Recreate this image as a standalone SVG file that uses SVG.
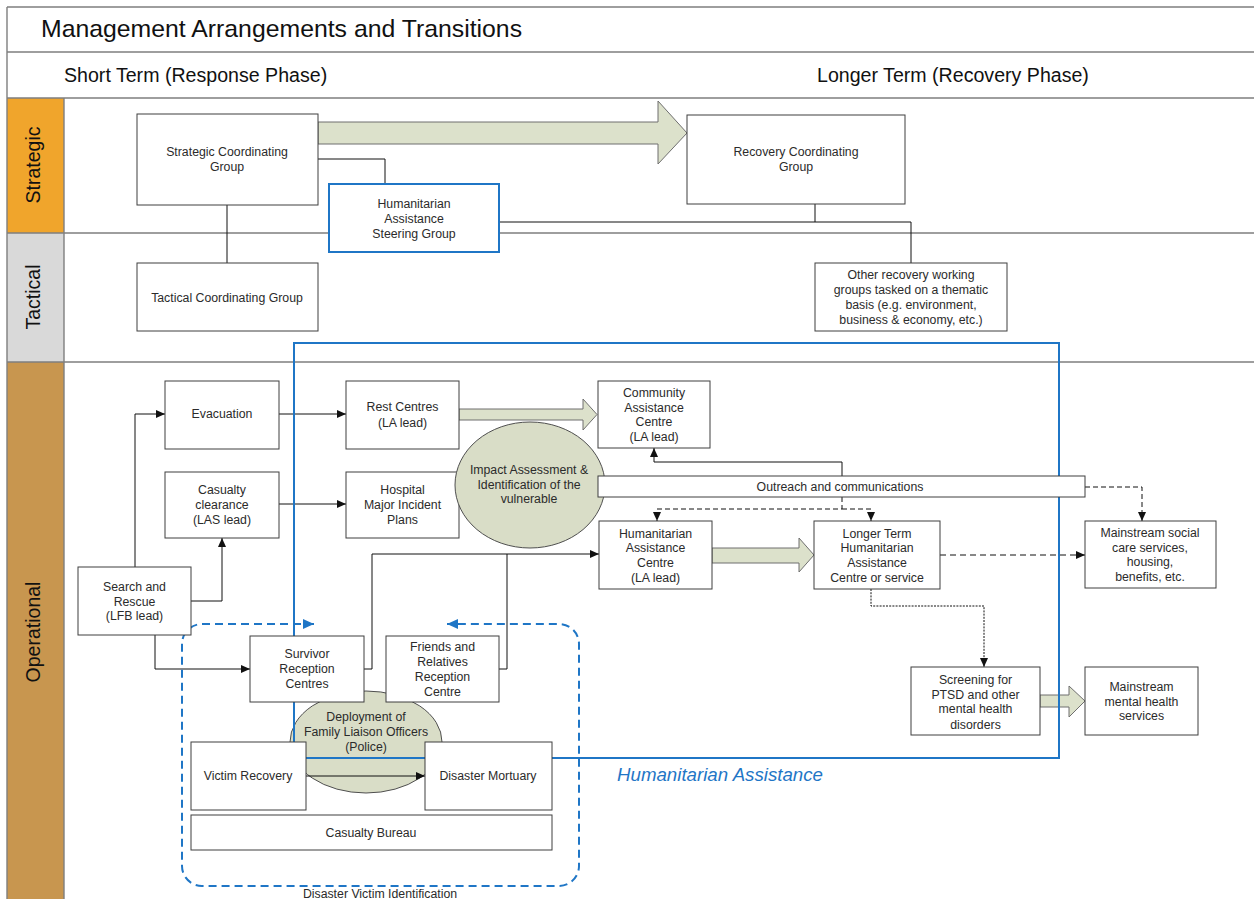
<svg xmlns="http://www.w3.org/2000/svg" width="1254" height="899" viewBox="0 0 1254 899">
<defs>
<style>
.row{stroke:#7f7f7f;stroke-width:1.4;fill:none}
.box{fill:#fff;stroke:#3f3f3f;stroke-width:1}
.hbox{fill:#fff;stroke:#1f76c6;stroke-width:2}
.t{font-family:"Liberation Sans",Arial,sans-serif;font-size:12.3px;fill:#2b2b2b;text-anchor:middle}
.hdr{font-family:"Liberation Sans",Arial,sans-serif;fill:#111}
.band{font-family:"Liberation Sans",Arial,sans-serif;font-size:19.5px;fill:#111;text-anchor:middle}
.con{stroke:#111;stroke-width:1;fill:none}
.dash{stroke-dasharray:5 3}
.dot{stroke-dasharray:2 1.2}
.block{fill:#dce1cb;stroke:#6f6f6f;stroke-width:1}
.ell{fill:#d9ddc7;stroke:#4f4f4f;stroke-width:1}
.blue{stroke:#1f76c6;stroke-width:2;fill:none}
</style>
<marker id="ah" markerUnits="userSpaceOnUse" markerWidth="9" markerHeight="8" refX="9" refY="4" orient="auto">
<path d="M0,0 L9,4 L0,8 z" fill="#111"/>
</marker>
<marker id="bh" markerUnits="userSpaceOnUse" markerWidth="11" markerHeight="10" refX="11" refY="5" orient="auto-start-reverse">
<path d="M0,0 L11,5 L0,10 z" fill="#1f76c6"/>
</marker>
</defs>
<rect x="0" y="0" width="1254" height="899" fill="#fff"/>

<g id="frame">
<rect x="7" y="98" width="57" height="135" fill="#f0a52c"/>
<rect x="7" y="233" width="57" height="129" fill="#d9d9d9"/>
<rect x="7" y="362" width="57" height="537" fill="#c8964f"/>
<path class="row" d="M7,7 H1254 M7,52 H1254 M7,98 H1254 M7,233 H1254 M7,362 H1254 M7,7 V899 M64,98 V899"/>
<text class="hdr" x="41" y="37" font-size="24.8">Management Arrangements and Transitions</text>
<text class="hdr" x="64" y="82" font-size="19.6">Short Term (Response Phase)</text>
<text class="hdr" x="817" y="82" font-size="19.6">Longer Term (Recovery Phase)</text>
<text class="band" transform="translate(40,165) rotate(-90)">Strategic</text>
<text class="band" transform="translate(40,297) rotate(-90)">Tactical</text>
<text class="band" transform="translate(40,632) rotate(-90)">Operational</text>
</g>

<g id="dfl">
<ellipse class="ell" cx="366" cy="742" rx="76" ry="51"/>
<text class="t" x="366" y="721">Deployment of</text>
<text class="t" x="366" y="736">Family Liaison Officers</text>
<text class="t" x="366" y="751">(Police)</text>
</g>

<g id="connectors">
<polygon class="block" points="318,122 658,122 658,101 687,133 658,164 658,144 318,144"/>
<polygon class="block" points="459,409 583,409 583,399 597,414.5 583,430 583,420 459,420"/>
<polygon class="block" points="712,548 799,548 799,538 814,555 799,572 799,563 712,563"/>
<polygon class="block" points="1040,695 1069,695 1069,686 1085,701 1069,717 1069,707 1040,707"/>
<path class="con" d="M318,159 H385 V184"/>
<path class="con" d="M227,205 V263"/>
<path class="con" d="M499,222 H911 V263"/>
<path class="con" d="M815,204 V222"/>
<path class="con" d="M135,567 V414 H165" marker-end="url(#ah)"/>
<path class="con" d="M191,601 H222 V538" marker-end="url(#ah)"/>
<path class="con" d="M155,635 V669 H250" marker-end="url(#ah)"/>
<path class="con" d="M279,414 H346" marker-end="url(#ah)"/>
<path class="con" d="M279,504 H346" marker-end="url(#ah)"/>
<path class="con" d="M364,669 H372 V554 H599" marker-end="url(#ah)"/>
<path class="con" d="M499,669 H507 V554"/>
<path class="con" d="M842,476 V462 H654 V448" marker-end="url(#ah)"/>
<path class="con dash" d="M842,497 V509 H657 V521" marker-end="url(#ah)"/>
<path class="con dash" d="M842,509 H871 V521" marker-end="url(#ah)"/>
<path class="con" style="stroke-dasharray:6 4" d="M940,555 H1085" marker-end="url(#ah)"/>
<path class="con dash" d="M1085,487 H1142 V521" marker-end="url(#ah)"/>
<path class="con dot" d="M871,589 V606 H984 V667" marker-end="url(#ah)"/>
<path class="con" d="M306,776 H425" marker-end="url(#ah)"/>
</g>

<g id="humanitarian-assistance">
<rect class="blue" x="294" y="343" width="765" height="415"/>
<text x="617" y="781" font-family="'Liberation Sans',Arial,sans-serif" font-size="18.7" font-style="italic" fill="#1f76c6">Humanitarian Assistance</text>
</g>

<g id="dvi">
<path class="blue" style="stroke-dasharray:8 5" d="M314,624 H202 A20,20 0 0 0 182,644 V866 A20,20 0 0 0 202,886 H559 A20,20 0 0 0 579,866 V644 A20,20 0 0 0 559,624 H447" marker-start="url(#bh)" marker-end="url(#bh)"/>
<text class="t" x="380" y="898">Disaster Victim Identification</text>
</g>

<g id="scg"><rect class="box" x="137" y="114" width="181" height="91"/>
<text class="t" x="227" y="156">Strategic Coordinating</text><text class="t" x="227" y="171">Group</text></g>
<g id="hasg"><rect class="hbox" x="329" y="184" width="170" height="68"/>
<text class="t" x="414" y="207.5">Humanitarian</text><text class="t" x="414" y="223">Assistance</text><text class="t" x="414" y="237.5">Steering Group</text></g>
<g id="tcg"><rect class="box" x="137" y="263" width="181" height="68"/>
<text class="t" x="227" y="302">Tactical Coordinating Group</text></g>
<g id="rcg"><rect class="box" x="687" y="115" width="218" height="89"/>
<text class="t" x="796" y="156">Recovery Coordinating</text><text class="t" x="796" y="171">Group</text></g>
<g id="orwg"><rect class="box" x="815" y="263" width="192" height="68"/>
<text class="t" x="911" y="279">Other recovery working</text><text class="t" x="911" y="294">groups tasked on a thematic</text><text class="t" x="911" y="309">basis (e.g. environment,</text><text class="t" x="911" y="324">business &amp; economy, etc.)</text></g>

<g id="evac"><rect class="box" x="165" y="381" width="114" height="68"/>
<text class="t" x="222" y="418">Evacuation</text></g>
<g id="rest"><rect class="box" x="346" y="381" width="113" height="68"/>
<text class="t" x="402.5" y="411">Rest Centres</text><text class="t" x="402.5" y="426.5">(LA lead)</text></g>
<g id="cc"><rect class="box" x="165" y="472" width="114" height="66"/>
<text class="t" x="222" y="494">Casualty</text><text class="t" x="222" y="509">clearance</text><text class="t" x="222" y="523.5">(LAS lead)</text></g>
<g id="hosp"><rect class="box" x="346" y="472" width="113" height="66"/>
<text class="t" x="402.5" y="494">Hospital</text><text class="t" x="402.5" y="509">Major Incident</text><text class="t" x="402.5" y="523.5">Plans</text></g>
<g id="sar"><rect class="box" x="78" y="567" width="113" height="68"/>
<text class="t" x="134.5" y="590.5">Search and</text><text class="t" x="134.5" y="605.5">Rescue</text><text class="t" x="134.5" y="620">(LFB lead)</text></g>

<g id="impact"><ellipse class="ell" cx="530" cy="485" rx="75" ry="63"/>
<text class="t" x="529" y="473.5">Impact Assessment &amp;</text><text class="t" x="529" y="489">Identification of the</text><text class="t" x="529" y="503">vulnerable</text></g>

<g id="cac"><rect class="box" x="598" y="381" width="112" height="67"/>
<text class="t" x="654" y="396.5">Community</text><text class="t" x="654" y="411.5">Assistance</text><text class="t" x="654" y="426">Centre</text><text class="t" x="654" y="440.5">(LA lead)</text></g>
<g id="outreach"><rect class="box" x="598" y="476" width="487" height="21"/>
<text class="t" x="840" y="490.5">Outreach and communications</text></g>
<g id="hac"><rect class="box" x="599" y="521" width="113" height="68"/>
<text class="t" x="655.5" y="537.5">Humanitarian</text><text class="t" x="655.5" y="552">Assistance</text><text class="t" x="655.5" y="566.5">Centre</text><text class="t" x="655.5" y="581.5">(LA lead)</text></g>
<g id="ltha"><rect class="box" x="814" y="521" width="126" height="68"/>
<text class="t" x="877" y="537.5">Longer Term</text><text class="t" x="877" y="552">Humanitarian</text><text class="t" x="877" y="566.5">Assistance</text><text class="t" x="877" y="581.5">Centre or service</text></g>
<g id="msc"><rect class="box" x="1085" y="521" width="131" height="67"/>
<text class="t" x="1150" y="536.5">Mainstream social</text><text class="t" x="1150" y="552">care services,</text><text class="t" x="1150" y="566">housing,</text><text class="t" x="1150" y="581">benefits, etc.</text></g>
<g id="screen"><rect class="box" x="911" y="667" width="129" height="68"/>
<text class="t" x="975.5" y="683.5">Screening for</text><text class="t" x="975.5" y="698.5">PTSD and other</text><text class="t" x="975.5" y="713">mental health</text><text class="t" x="975.5" y="728.5">disorders</text></g>
<g id="mmh"><rect class="box" x="1085" y="667" width="113" height="68"/>
<text class="t" x="1141.5" y="690.5">Mainstream</text><text class="t" x="1141.5" y="705.5">mental health</text><text class="t" x="1141.5" y="720">services</text></g>

<g id="src"><rect class="box" x="250" y="636" width="114" height="66"/>
<text class="t" x="307" y="657.5">Survivor</text><text class="t" x="307" y="673">Reception</text><text class="t" x="307" y="687.5">Centres</text></g>
<g id="frrc"><rect class="box" x="386" y="636" width="113" height="66"/>
<text class="t" x="442.5" y="651">Friends and</text><text class="t" x="442.5" y="666">Relatives</text><text class="t" x="442.5" y="680.5">Reception</text><text class="t" x="442.5" y="695.5">Centre</text></g>
<g id="vr"><rect class="box" x="191" y="742" width="115" height="68"/>
<text class="t" x="248" y="780">Victim Recovery</text></g>
<g id="dm"><rect class="box" x="425" y="742" width="127" height="68"/>
<text class="t" x="488" y="780">Disaster Mortuary</text></g>
<g id="cb"><rect class="box" x="191" y="815" width="361" height="35"/>
<text class="t" x="371" y="836.5">Casualty Bureau</text></g>
</svg>
